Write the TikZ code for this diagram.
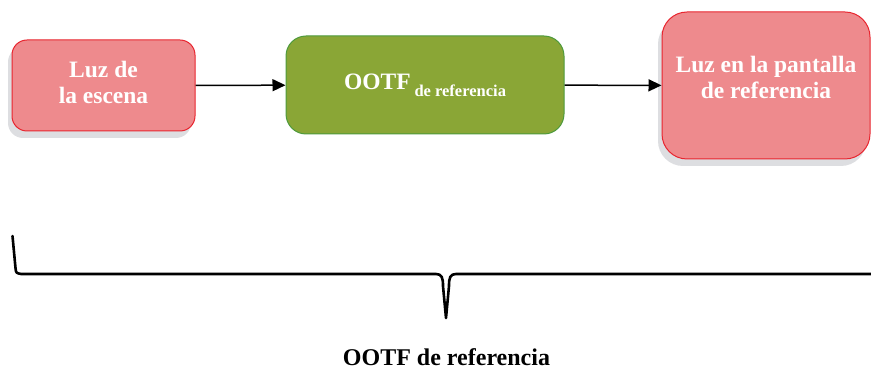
\documentclass[tikz,border=0pt]{standalone}
\usepackage{fontspec}
\setmainfont{Liberation Serif}
\usetikzlibrary{arrows.meta,shadows}

\definecolor{luzfill}{HTML}{EE8A8D}
\definecolor{luzdraw}{HTML}{E8252F}
\definecolor{ootffill}{HTML}{8AA636}
\definecolor{ootfdraw}{HTML}{4E9A3C}
\definecolor{sombra}{HTML}{DDDEE1}

\begin{document}
\begin{tikzpicture}[x=1pt, y=-1pt,
    caja/.style = {rounded corners=#1, line width=1pt, text=white, align=center,
        font=\bfseries\fontsize{23.5}{26}\selectfont},
    luz/.style = {caja=#1, draw=luzdraw, fill=luzfill,
        drop shadow={shadow xshift=-4pt, shadow yshift=-7pt, fill=sombra, opacity=1}},
    flecha/.style = {line width=1.5pt, -{Triangle[length=13pt,width=12pt]}},
    llave/.style = {line width=2.6pt, line join=round, line cap=round}]
\useasboundingbox (0,0) rectangle (871,371);
\node[luz=15pt, minimum width=183pt, minimum height=91pt, text depth=6pt] (escena) at (103.5,85.5)
    {Luz de\\la escena};
\node[caja=20pt, draw=ootfdraw, fill=ootffill, minimum width=278pt, minimum height=98pt] (ootf) at (425,85)
    {OOTF\,{\fontsize{16.5}{18}\selectfont\raisebox{-7pt}{de referencia}}};
\node[luz=25pt, minimum width=208pt, minimum height=147pt, text depth=16pt] (pantalla) at (766,85.5)
    {Luz en la pantalla\\de referencia};
\draw[flecha] (escena) -- (ootf);
\draw[flecha] (ootf) -- (pantalla);
% llave
\coordinate (izq) at (12.5,236);
\coordinate (punta) at (446,318);
\coordinate (der) at (871,274);
\draw[llave] (izq) -- (15.5,268) .. controls (16,273) .. (21,274) -- (436,274)
    .. controls (442,274) and (443,278) .. (443,286) -- (punta) -- (449,286)
    .. controls (449,278) and (450,274) .. (456,274) -- (der);
\node[font=\bfseries\fontsize{24}{26}\selectfont, anchor=base, inner sep=0pt] (nombre) at (446.5,365.5) {OOTF de referencia};
\end{tikzpicture}
\end{document}
